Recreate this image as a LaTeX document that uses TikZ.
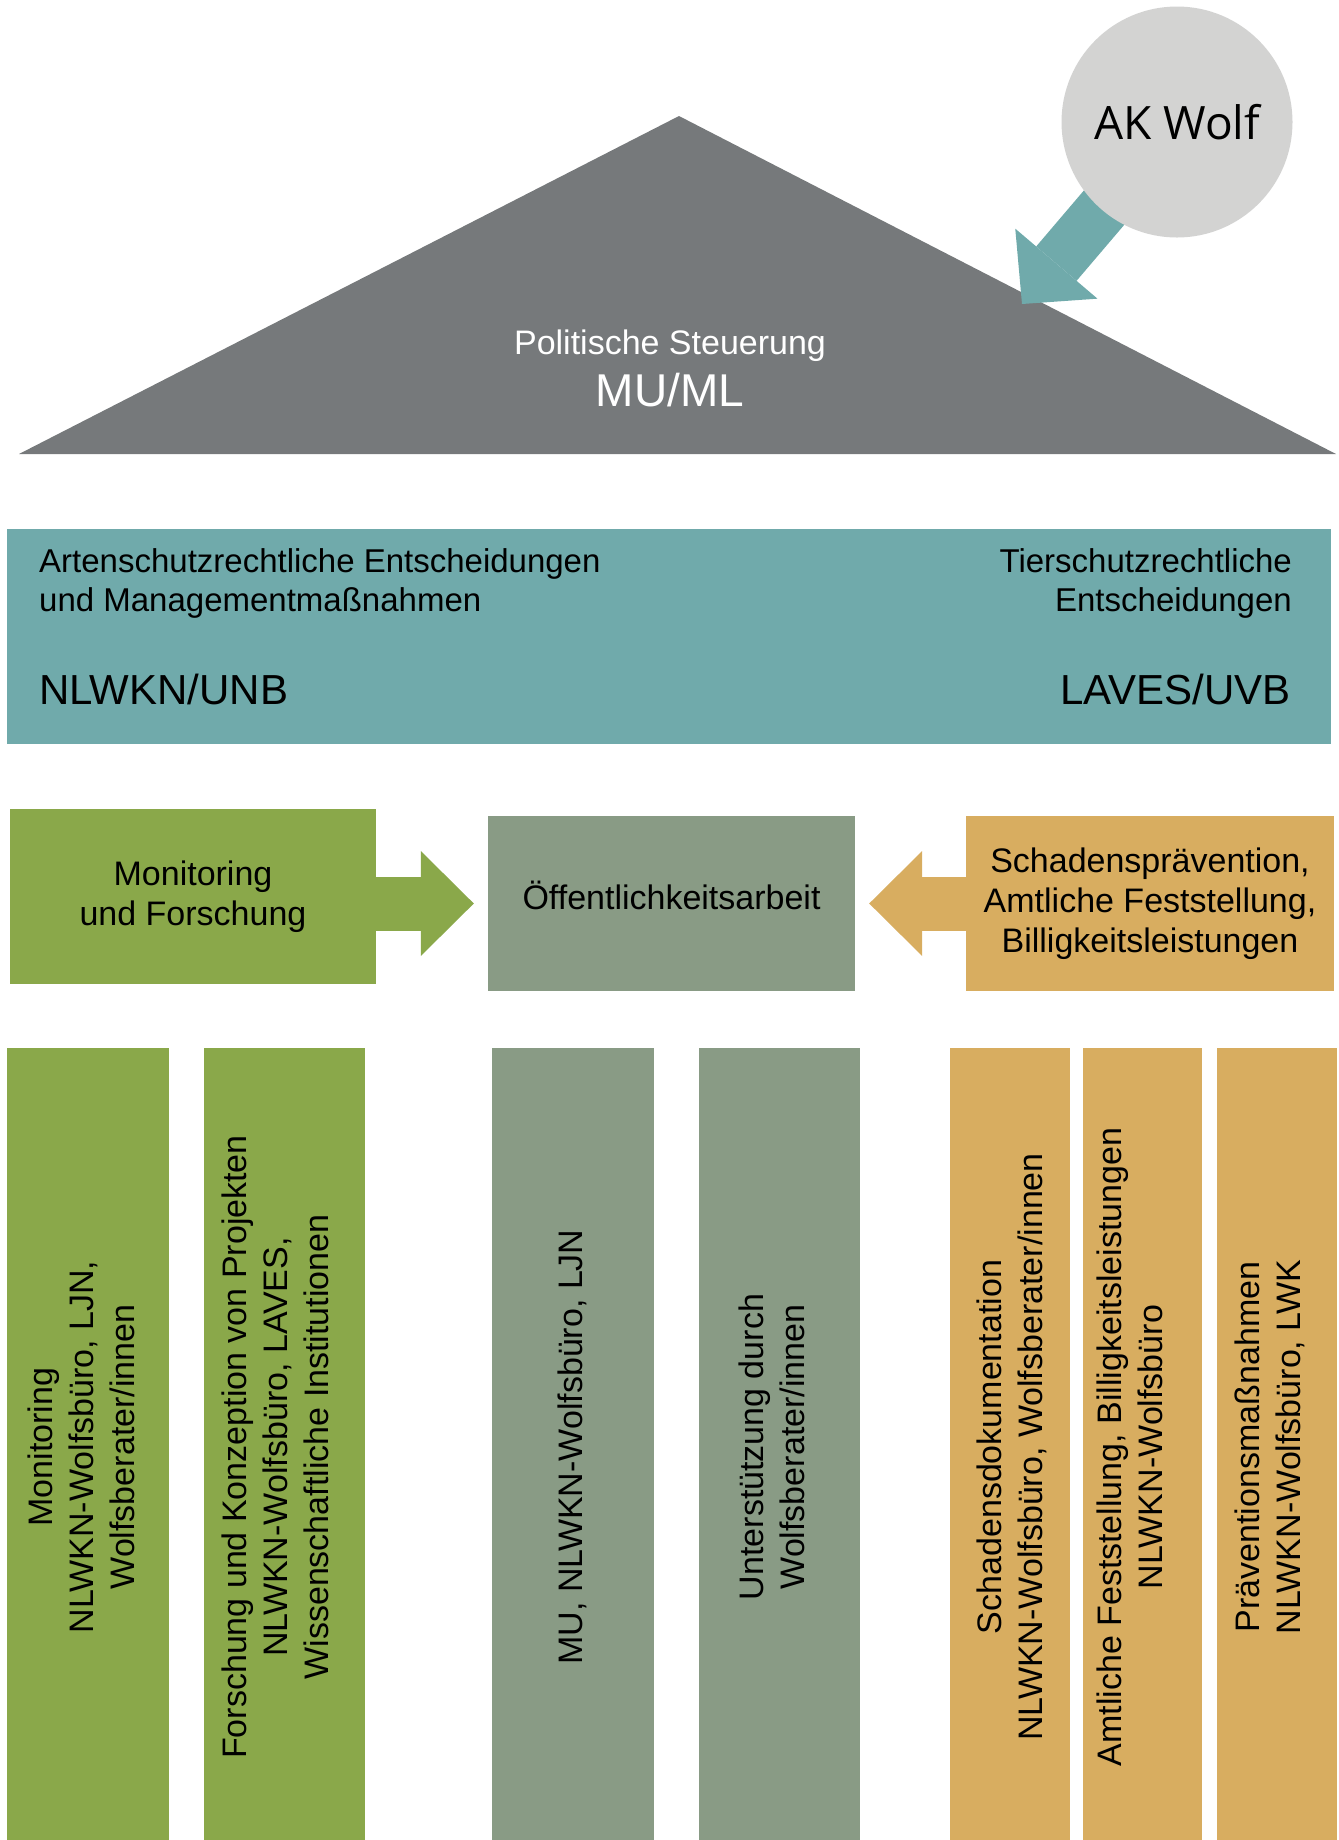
\documentclass[tikz,border=0pt]{standalone}
\usepackage{fontspec}
\setmainfont{Liberation Sans}
\newfontfamily\akfont{Open Sans}
\usetikzlibrary{positioning,arrows.meta,backgrounds}
\definecolor{roofgray}{HTML}{76797B}
\definecolor{akgray}{HTML}{D3D3D2}
\definecolor{tealfill}{HTML}{70AAAB}
\definecolor{grnfill}{HTML}{8AA84A}
\definecolor{sagefill}{HTML}{899B85}
\definecolor{tanfill}{HTML}{D8AD60}
\tikzset{akc/.style={circle,fill=akgray,inner sep=0pt,minimum size=231pt,font=\akfont\fontsize{46}{55}\selectfont},
	 rooftext/.style={text=white,inner sep=0pt},
	 band/.style={rectangle,fill=tealfill,inner sep=0pt,minimum width=1324pt,minimum height=215pt},
	 bandtext/.style={inner sep=0pt,font=\fontsize{33}{39}\selectfont},
	 bandbig/.style={inner sep=0pt,font=\fontsize{42}{50}\selectfont},
	 task/.style={rectangle,inner sep=0pt,minimum width=367pt,minimum height=175pt,align=center,font=\fontsize{34}{40}\selectfont},
	 pillar/.style={rectangle,inner sep=0pt,minimum height=792pt},
	 pillartext/.style={rotate=90,inner sep=0pt,align=center,font=\fontsize{34}{41}\selectfont},
	 blockarrow/.style={line width=54pt,-{Triangle[length=53pt,width=105pt,line width=0pt]},shorten >=14pt}
	 }

\begin{document}
\begin{tikzpicture}[x=1pt,y=-1pt] % Wolfsmanagement Niedersachsen
	\useasboundingbox (0,0) rectangle (1339,1840);
	\begin{pgfonlayer}{background}
	\fill[roofgray] (19,454) -- (679,116) -- (1336,454) -- cycle;
	\end{pgfonlayer}
	\node[rooftext,font=\fontsize{34}{40}\selectfont] (pol) at (670,354) [anchor=base] {Politische Steuerung};
	\node[rooftext,font=\fontsize{46}{55}\selectfont] (muml) [below=12pt of pol] {MU/ML};
	\node[akc] (ak) at (1177,122) {AK Wolf};
	\coordinate (aktip) at (1022,304);
	\begin{pgfonlayer}{background}
	\draw[tealfill,line width=53pt,-{Triangle[length=53pt,width=108pt,line width=0pt]}] (ak.center) -- (aktip);
	\end{pgfonlayer}

	\node[band] (band) at (669,636.5) {};
	\node[bandtext,align=left] (art) at (39,548) [anchor=north west] {Artenschutzrechtliche Entscheidungen\\und Managementmaßnahmen};
	\node[bandbig] (unb) at (39,704) [anchor=base west] {NLWKN/UNB};
	\node[bandtext,align=right] (tier) at (1292,548) [anchor=north east] {Tierschutzrechtliche\\Entscheidungen};
	\node[bandbig] (uvb) at (1291,704) [anchor=base east] {LAVES/UVB};

	\node[task,fill=grnfill,minimum width=366pt] (mon) at (193,896.5) {Monitoring\\und Forschung};
	\node[task,fill=sagefill,text depth=16pt] (oeff) at (671.5,903.5) {Öffentlichkeitsarbeit};
	\node[task,fill=tanfill,minimum width=368pt] (sch) at (1150,903.5) {Schadensprävention,\\Amtliche Feststellung,\\Billigkeitsleistungen};
	\draw[blockarrow,grnfill] (mon.east |- oeff.west) -- (oeff.west);
	\draw[blockarrow,tanfill] (sch.west |- oeff.east) -- (oeff.east);

	\node[pillar,fill=grnfill,minimum width=162pt] (c1) at (88,1444) {};
	\node[pillar,fill=grnfill,minimum width=161pt] (c2) [right=35pt of c1] {};
	\node[pillar,fill=sagefill,minimum width=162pt] (c3) [right=126pt of c2] {};
	\node[pillar,fill=sagefill,minimum width=161pt] (c4) [right=45pt of c3] {};
	\node[pillar,fill=tanfill,minimum width=120pt] (c5) [right=89pt of c4] {};
	\node[pillar,fill=tanfill,minimum width=119pt] (c6) [right=13pt of c5] {};
	\node[pillar,fill=tanfill,minimum width=120pt] (c7) [right=15pt of c6] {};
	\node[pillartext] (t1) at (81,1447) {Monitoring\\NLWKN-Wolfsbüro, LJN,\\Wolfsberater/innen};
	\node[pillartext] (t2) at (275,1447) {Forschung und Konzeption von Projekten\\NLWKN-Wolfsbüro, LAVES,\\Wissenschaftliche Institutionen};
	\node[pillartext] (t3) at (572,1447) {MU, NLWKN-Wolfsbüro, LJN};
	\node[pillartext] (t4) at (772,1447) {Unterstützung durch\\Wolfsberater/innen};
	\node[pillartext] (t5) at (1011.5,1447) {Schadensdokumentation\\NLWKN-Wolfsbüro, Wolfsberater/innen};
	\node[pillartext] (t6) at (1129.5,1447) {Amtliche Feststellung, Billigkeitsleistungen\\NLWKN-Wolfsbüro};
	\node[pillartext] (t7) at (1269.5,1447) {Präventionsmaßnahmen\\NLWKN-Wolfsbüro, LWK};
\end{tikzpicture}
\end{document}
